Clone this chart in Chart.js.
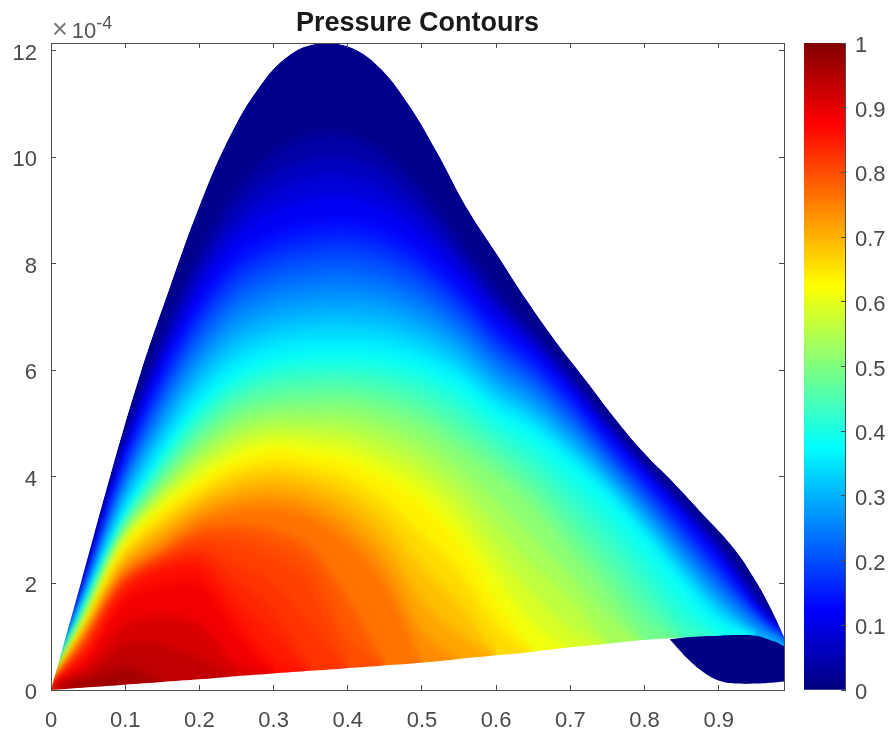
<!DOCTYPE html>
<html>
<head>
<meta charset="utf-8">
<title>Pressure Contours</title>
<script src="https://cdn.jsdelivr.net/npm/chart.js@4"></script>
<style>
  html, body { margin: 0; padding: 0; background: #fff; }
  #wrap { position: relative; width: 890px; height: 731px; overflow: hidden; }
  canvas { position: absolute; top: 0; }
  #main { left: 0; }
  #bar { left: 790px; }
  #exp { position: absolute; left: 52px; top: 16px; font: 22px "Liberation Sans", Arial, sans-serif; color: #555; line-height: 26px; white-space: nowrap; }
  #exp i { font-style: normal; font-size: 27px; color: #777; margin-right: 4px; }
  #exp span { position: relative; top: -9px; font-size: 18px; }
</style>
</head>
<body>
<div id="wrap">
  <canvas id="main" width="835" height="731"></canvas>
  <canvas id="bar" width="100" height="731"></canvas>
  <div id="exp"><i>×</i>10<span>-4</span></div>
</div>
<script>
// everything on y is in units of 1e-4
const xs = [0, 0.02, 0.05, 0.1, 0.15, 0.2, 0.25, 0.3, 0.35, 0.4, 0.45, 0.5, 0.55, 0.6, 0.65, 0.7, 0.75, 0.8, 0.85, 0.9, 0.95, 0.988];

// outer edge is read at its own x positions
const topX = [0, 0.04, 0.08, 0.12, 0.16, 0.2, 0.24, 0.28, 0.32, 0.36, 0.4, 0.44, 0.48, 0.52, 0.56, 0.6, 0.64, 0.68, 0.72, 0.76, 0.8, 0.84, 0.88, 0.92, 0.95, 0.97, 0.988];
const topCurve = [0, 2.0, 4.03, 5.92, 7.55, 9.08, 10.36, 11.3, 11.9, 12.13, 12.08, 11.72, 11.03, 10.1, 9.06, 8.2, 7.34, 6.55, 5.83, 5.1, 4.44, 3.88, 3.28, 2.67, 2.05, 1.54, 1.0];
const wallCurve = [0, 0.02, 0.05, 0.1, 0.15, 0.2, 0.26, 0.31, 0.36, 0.41, 0.46, 0.51, 0.58, 0.65, 0.72, 0.8, 0.87, 0.94, 0.98, 1.01, 1.0, 0.82];

// pressure contours, y at each of xs from the left. a row stops where the contour runs into the wall
const level025 = [0, 0.93, 2.27, 4.66, 6.58, 8.16, 9.35, 10.06, 10.39, 10.4, 10.05, 9.38, 8.43, 7.51, 6.71, 5.9, 5.01, 4.22, 3.49, 2.73, 1.76, 0.99];
const level050 = [0, 0.91, 2.22, 4.58, 6.42, 7.93, 9.04, 9.67, 9.96, 9.98, 9.68, 9.07, 8.21, 7.34, 6.6, 5.81, 4.94, 4.16, 3.43, 2.65, 1.69, 0.99];
const level075 = [0, 0.89, 2.18, 4.51, 6.29, 7.73, 8.78, 9.33, 9.6, 9.62, 9.36, 8.81, 8.03, 7.2, 6.5, 5.73, 4.88, 4.11, 3.37, 2.59, 1.63, 0.98];
const level100 = [0, 0.88, 2.15, 4.43, 6.16, 7.53, 8.51, 9.0, 9.23, 9.27, 9.04, 8.56, 7.85, 7.05, 6.41, 5.66, 4.82, 4.06, 3.32, 2.52, 1.57, 0.98];
const level125 = [0, 0.86, 2.1, 4.35, 6.0, 7.3, 8.2, 8.6, 8.8, 8.85, 8.67, 8.25, 7.63, 6.88, 6.3, 5.57, 4.75, 4.0, 3.25, 2.44, 1.5, 0.98];
const level150 = [0, 0.84, 2.06, 4.24, 5.84, 7.11, 7.97, 8.36, 8.55, 8.6, 8.43, 8.04, 7.44, 6.71, 6.15, 5.44, 4.64, 3.89, 3.13, 2.32, 1.45, 0.96];
const level175 = [0, 0.82, 2.01, 4.13, 5.68, 6.91, 7.75, 8.12, 8.3, 8.35, 8.19, 7.82, 7.26, 6.55, 6.0, 5.31, 4.52, 3.77, 3.0, 2.2, 1.4, 0.94];
const level200 = [0, 0.81, 1.97, 4.02, 5.52, 6.72, 7.52, 7.89, 8.06, 8.09, 7.95, 7.61, 7.07, 6.38, 5.86, 5.18, 4.41, 3.66, 2.88, 2.09, 1.34, 0.92];
const level225 = [0, 0.79, 1.92, 3.91, 5.36, 6.52, 7.3, 7.65, 7.81, 7.84, 7.71, 7.39, 6.88, 6.22, 5.71, 5.05, 4.3, 3.54, 2.75, 1.97, 1.29, 0.9];
const level250 = [0, 0.77, 1.88, 3.8, 5.2, 6.33, 7.07, 7.41, 7.56, 7.59, 7.48, 7.18, 6.7, 6.05, 5.56, 4.92, 4.19, 3.43, 2.63, 1.85, 1.22, 0.88];
const level275 = [0, 0.75, 1.83, 3.69, 5.04, 6.13, 6.84, 7.17, 7.31, 7.34, 7.24, 6.96, 6.51, 5.88, 5.41, 4.78, 4.07, 3.31, 2.5, 1.73, 1.12, 0.86];
const level300 = [0, 0.73, 1.79, 3.58, 4.88, 5.94, 6.62, 6.93, 7.06, 7.09, 7.0, 6.75, 6.32, 5.72, 5.26, 4.65, 3.96, 3.2, 2.38, 1.61, 1.05, 0.8];
const level325 = [0, 0.72, 1.74, 3.47, 4.72, 5.74, 6.39, 6.7, 6.82, 6.83, 6.76, 6.53, 6.13, 5.55, 5.12, 4.52, 3.85, 3.08, 2.25, 1.5, 0.98];
const level350 = [0, 0.7, 1.7, 3.36, 4.56, 5.55, 6.17, 6.46, 6.57, 6.58, 6.52, 6.32, 5.95, 5.39, 4.97, 4.39, 3.73, 2.97, 2.13, 1.38, 0.98];
const level375 = [0, 0.68, 1.65, 3.25, 4.4, 5.35, 5.94, 6.22, 6.32, 6.33, 6.28, 6.1, 5.76, 5.22, 4.82, 4.26, 3.62, 2.85, 2.0, 1.26, 0.98];
const level400 = [0, 0.66, 1.61, 3.19, 4.29, 5.2, 5.77, 6.04, 6.13, 6.13, 6.06, 5.87, 5.51, 4.98, 4.54, 3.93, 3.26, 2.46, 1.6, 0.98];
const level425 = [0, 0.65, 1.57, 3.13, 4.18, 5.05, 5.6, 5.85, 5.93, 5.94, 5.85, 5.64, 5.26, 4.74, 4.26, 3.61, 2.9, 2.08, 1.25, 0.95];
const level450 = [0, 0.63, 1.53, 3.07, 4.07, 4.9, 5.44, 5.67, 5.74, 5.74, 5.63, 5.4, 5.0, 4.51, 3.99, 3.28, 2.54, 1.72, 0.95];
const level475 = [0, 0.62, 1.49, 3.01, 3.96, 4.75, 5.27, 5.48, 5.54, 5.55, 5.42, 5.17, 4.75, 4.27, 3.71, 2.96, 2.18, 1.35, 0.9];
const level500 = [0, 0.6, 1.45, 2.95, 3.85, 4.6, 5.1, 5.3, 5.35, 5.35, 5.2, 4.94, 4.5, 4.03, 3.43, 2.63, 1.82, 0.9];
const level525 = [0, 0.58, 1.42, 2.9, 3.76, 4.46, 4.94, 5.14, 5.16, 5.14, 4.95, 4.65, 4.15, 3.56, 2.88, 2.15, 1.4, 0.85];
const level550 = [0, 0.57, 1.38, 2.85, 3.67, 4.32, 4.78, 4.98, 4.97, 4.92, 4.7, 4.36, 3.8, 3.09, 2.34, 1.7, 0.85];
const level575 = [0, 0.55, 1.35, 2.8, 3.58, 4.18, 4.62, 4.82, 4.79, 4.71, 4.44, 4.08, 3.46, 2.62, 1.8, 1.15, 0.8];
const level600 = [0, 0.54, 1.31, 2.75, 3.49, 4.04, 4.46, 4.66, 4.6, 4.49, 4.19, 3.79, 3.11, 2.16, 1.25, 0.75];
const level625 = [0, 0.52, 1.28, 2.7, 3.4, 3.9, 4.3, 4.5, 4.41, 4.28, 3.94, 3.5, 2.76, 1.69, 0.7];
const level650 = [0, 0.5, 1.24, 2.6, 3.26, 3.75, 4.12, 4.28, 4.18, 3.98, 3.55, 2.9, 2.2, 1.2, 0.65];
const level675 = [0, 0.48, 1.2, 2.5, 3.11, 3.6, 3.93, 4.07, 3.95, 3.69, 3.16, 2.3, 1.6, 0.65];
const level700 = [0, 0.46, 1.15, 2.4, 2.97, 3.45, 3.75, 3.85, 3.71, 3.39, 2.78, 1.7, 1.05, 0.6];
const level725 = [0, 0.44, 1.11, 2.3, 2.82, 3.3, 3.56, 3.64, 3.48, 3.1, 2.39, 1.1, 0.55];
const level750 = [0, 0.42, 1.07, 2.2, 2.68, 3.15, 3.38, 3.42, 3.25, 2.8, 2.0, 0.5];
const level775 = [0, 0.39, 0.98, 2.1, 2.56, 3.0, 3.1, 3.0, 2.65, 1.7, 0.45];
const level788 = [0, 0.37, 0.93, 2.05, 2.5, 2.9, 2.93, 2.75, 2.35, 1.0, 0.42];
const level800 = [0, 0.35, 0.89, 2.0, 2.45, 2.8, 2.75, 2.5, 2.0, 0.4];
const level812 = [0, 0.33, 0.85, 1.96, 2.4, 2.68, 2.4, 2.0, 1.2, 0.38];
const level825 = [0, 0.32, 0.8, 1.92, 2.35, 2.55, 2.05, 1.45, 0.35];
const level838 = [0, 0.3, 0.75, 1.88, 2.3, 2.42, 1.72, 1.0, 0.32];
const level850 = [0, 0.28, 0.71, 1.85, 2.25, 2.3, 1.4, 0.55, 0.3];
const level875 = [0, 0.25, 0.62, 1.69, 1.97, 2.0, 1.1, 0.3];
const level900 = [0, 0.2, 0.45, 1.25, 1.4, 1.25, 0.5, 0.28];
const level925 = [0, 0.15, 0.32, 0.85, 0.85, 0.6, 0.25];
const level950 = [0, 0.1, 0.2, 0.44, 0.14];
const level975 = [0, 0.05, 0.1, 0.09];

// the dark blob under the wall at the right
const lobeX = [0.834, 0.857, 0.879, 0.902, 0.925, 0.95, 0.975, 0.988];
const lobeTop = [0.95, 0.99, 1.01, 1.02, 1.03, 1.02, 0.91, 0.82];
const lobeBottom = [0.95, 0.6, 0.34, 0.17, 0.12, 0.12, 0.14, 0.16];

const xTicks = [0, 0.1, 0.2, 0.3, 0.4, 0.5, 0.6, 0.7, 0.8, 0.9];
const yTicks = [0, 2, 4, 6, 8, 10, 12];
const barTicks = [0, 0.1, 0.2, 0.3, 0.4, 0.5, 0.6, 0.7, 0.8, 0.9, 1];

const jetStops = [0, 0.125, 0.375, 0.625, 0.875, 1];
const jetColors = [[0, 0, 128], [0, 0, 255], [0, 255, 255], [255, 255, 0], [255, 0, 0], [128, 0, 0]];

const AXIS_COLOR = '#4d4d4d';
const LABEL_COLOR = '#4a4a4a';
const FONT = '"Liberation Sans", Arial, sans-serif';
const BLUR = 'blur(5px)';

function jet(v) {
  let i = 0;
  while (i < jetStops.length - 2 && v > jetStops[i + 1]) i++;
  const t = (v - jetStops[i]) / (jetStops[i + 1] - jetStops[i]);
  const c = jetColors[i].map((a, k) => Math.round(a + (jetColors[i + 1][k] - a) * t));
  return `rgb(${c[0]},${c[1]},${c[2]})`;
}

function curve(label, px, py, fill, color, tension = 0.3) {
  return {
    label,
    data: py.map((y, i) => ({ x: px[i], y })),
    showLine: true,
    fill,
    backgroundColor: color,
    borderWidth: 0,
    pointRadius: 0,
    tension
  };
}

const levels = [
  [0.975, level975], [0.95, level950], [0.925, level925], [0.9, level900], [0.875, level875],
  [0.85, level850], [0.8375, level838], [0.825, level825], [0.8125, level812], [0.8, level800],
  [0.7875, level788], [0.775, level775], [0.75, level750],
  [0.725, level725], [0.7, level700], [0.675, level675], [0.65, level650], [0.625, level625],
  [0.6, level600], [0.575, level575], [0.55, level550], [0.525, level525], [0.5, level500],
  [0.475, level475], [0.45, level450], [0.425, level425], [0.4, level400], [0.375, level375],
  [0.35, level350], [0.325, level325], [0.3, level300], [0.275, level275], [0.25, level250],
  [0.225, level225], [0.2, level200], [0.175, level175], [0.15, level150], [0.125, level125],
  [0.1, level100], [0.075, level075], [0.05, level050], [0.025, level025]
];

// chart.js paints the last dataset first, so the lowest pressure goes at the end
// and the white masks + blob sit at the front
const datasets = [
  curve('lobe', lobeX, lobeTop, '+1', jet(0.005), 0.4),
  curve('lobe bottom', lobeX, lobeBottom, false, 'transparent', 0.4),
  curve('above', topX, topCurve, 'end', '#fff', 0.4),
  curve('below', xs, wallCurve, 'origin', '#fff'),
  ...levels.map(([v, ys]) => curve('p' + v, xs, ys, 'origin', jet(v + 0.0125))),
  curve('p0', topX, topCurve, 'origin', jet(0.0125), 0.4)
];
const firstMask = 3;
const baseIndex = datasets.length - 1;

// soften the steps between the contour bands, masks are drawn sharp afterwards
const softBands = {
  id: 'softBands',
  afterDatasetDraw(chart, args) {
    if (args.index === baseIndex) chart.ctx.filter = BLUR;
    if (args.index === firstMask + 1) chart.ctx.filter = 'none';
  }
};

function tickAxis(extra) {
  return Object.assign({
    grid: { drawOnChartArea: false, tickLength: -5, tickColor: AXIS_COLOR, z: 1 },
    border: { color: AXIS_COLOR, z: 1 }
  }, extra);
}

new Chart(document.getElementById('main'), {
  type: 'scatter',
  data: { datasets },
  plugins: [softBands],
  options: {
    responsive: false,
    animation: false,
    layout: { padding: 0 },
    plugins: {
      legend: { display: false },
      tooltip: { enabled: false },
      title: {
        display: true,
        text: 'Pressure Contours',
        color: '#1a1a1a',
        font: { family: FONT, size: 27, weight: 'bold', lineHeight: 1.2 },
        padding: { top: 7, bottom: 2.6 }
      }
    },
    scales: {
      x: tickAxis({
        type: 'linear', position: 'bottom', min: 0, max: 0.988,
        afterBuildTicks: a => { a.ticks = xTicks.map(value => ({ value })); },
        afterFit: a => { a.height = 41; },
        ticks: { color: LABEL_COLOR, font: { family: FONT, size: 22 }, padding: 23, maxRotation: 0, callback: v => String(v) }
      }),
      y: tickAxis({
        type: 'linear', position: 'left', min: 0, max: 12.14,
        afterBuildTicks: a => { a.ticks = yTicks.map(value => ({ value })); },
        afterFit: a => { a.width = 51; },
        ticks: { color: LABEL_COLOR, font: { family: FONT, size: 22 }, padding: 19, labelOffset: 3, callback: v => String(v) }
      }),
      x2: tickAxis({
        type: 'linear', position: 'top', min: 0, max: 0.988,
        afterBuildTicks: a => { a.ticks = xTicks.map(value => ({ value })); },
        afterFit: a => { a.height = 1; },
        ticks: { display: false }
      }),
      y2: tickAxis({
        type: 'linear', position: 'right', min: 0, max: 12.14,
        afterBuildTicks: a => { a.ticks = yTicks.map(value => ({ value })); },
        afterFit: a => { a.width = 51; },
        ticks: { display: false }
      })
    }
  }
});

function barFill(ctx) {
  const area = ctx.chart.chartArea;
  if (!area) return jet(0.5);
  const g = ctx.chart.ctx.createLinearGradient(0, area.bottom, 0, area.top);
  jetStops.forEach(s => g.addColorStop(s, jet(s)));
  return g;
}

new Chart(document.getElementById('bar'), {
  type: 'bar',
  data: {
    labels: [''],
    datasets: [{ data: [[0, 1]], backgroundColor: barFill, borderWidth: 0, barPercentage: 1, categoryPercentage: 1 }]
  },
  options: {
    responsive: false,
    animation: false,
    layout: { padding: { left: 14, top: 43, bottom: 41, right: 0 } },
    plugins: { legend: { display: false }, tooltip: { enabled: false } },
    scales: {
      x: { display: false },
      y: {
        position: 'right', min: 0, max: 1,
        afterBuildTicks: a => { a.ticks = barTicks.map(value => ({ value })); },
        afterFit: a => { a.width = 45; },
        grid: { drawOnChartArea: false, tickLength: -4, tickColor: AXIS_COLOR, z: 1 },
        border: { color: AXIS_COLOR, z: 1 },
        ticks: { color: LABEL_COLOR, font: { family: FONT, size: 22 }, padding: 14, labelOffset: 3, callback: v => String(v) }
      }
    }
  }
});
</script>
</body>
</html>
